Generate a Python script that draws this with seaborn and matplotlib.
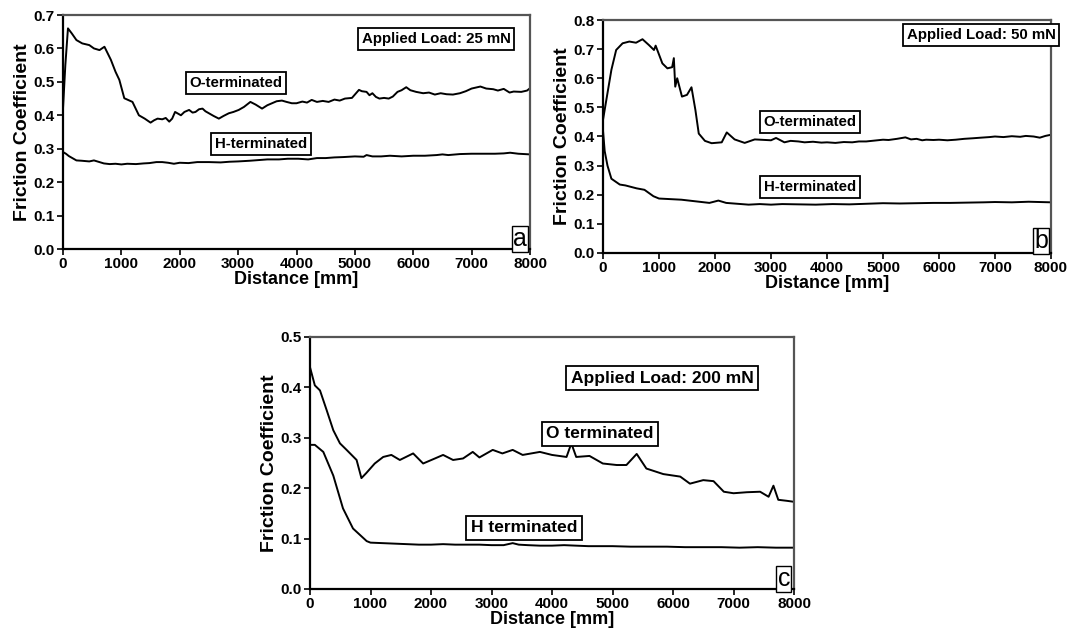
import numpy as np
import pandas as pd
import matplotlib
matplotlib.use("Agg")
import matplotlib.pyplot as plt
import seaborn as sns

# ---- panel a: applied load 25 mN ----
a_o_dist = [0, 40, 85, 150, 230, 330, 450, 530, 625, 710, 820, 900, 965, 1050, 1190,
            1300, 1400, 1500, 1560, 1620, 1700, 1760, 1820, 1870, 1920, 1970, 2020, 2080,
            2160, 2220, 2270, 2330, 2390, 2440, 2500, 2580, 2670, 2750, 2840, 2920, 3010,
            3100, 3210, 3300, 3410, 3500, 3580, 3660, 3750, 3830, 3920, 4000, 4100, 4180,
            4260, 4350, 4450, 4550, 4650, 4740, 4830, 4950, 5070, 5120, 5200, 5250, 5300,
            5360, 5420, 5500, 5580, 5650, 5730, 5800, 5880, 5950, 6050, 6170, 6270, 6370,
            6470, 6570, 6680, 6800, 6900, 7000, 7150, 7250, 7370, 7450, 7550, 7650, 7720,
            7850, 7950, 8000]
a_o_mu = [0.42, 0.55, 0.66, 0.645, 0.625, 0.615, 0.61, 0.60, 0.595, 0.605, 0.566, 0.53,
          0.506, 0.451, 0.44, 0.40, 0.39, 0.378, 0.385, 0.39, 0.388, 0.392, 0.381, 0.39,
          0.41, 0.405, 0.40, 0.41, 0.416, 0.408, 0.41, 0.418, 0.42, 0.412, 0.406, 0.398,
          0.39, 0.398, 0.406, 0.41, 0.416, 0.425, 0.44, 0.432, 0.42, 0.43, 0.436, 0.442,
          0.444, 0.44, 0.436, 0.436, 0.441, 0.438, 0.446, 0.44, 0.443, 0.44, 0.447, 0.444,
          0.45, 0.452, 0.476, 0.472, 0.47, 0.46, 0.466, 0.455, 0.45, 0.452, 0.45, 0.456,
          0.47, 0.475, 0.484, 0.475, 0.47, 0.466, 0.468, 0.462, 0.466, 0.463, 0.462, 0.466,
          0.472, 0.48, 0.486, 0.48, 0.478, 0.474, 0.479, 0.468, 0.471, 0.47, 0.474, 0.481]
a_h_dist = [0, 50, 100, 160, 230, 320, 450, 530, 625, 700, 800, 900, 1000, 1100, 1250,
            1380, 1480, 1600, 1700, 1800, 1900, 2000, 2150, 2300, 2500, 2700, 2850, 3000,
            3200, 3350, 3500, 3700, 3850, 4030, 4200, 4350, 4500, 4650, 4800, 5000, 5150,
            5200, 5300, 5450, 5600, 5800, 6000, 6200, 6400, 6500, 6600, 6800, 7000, 7200,
            7400, 7550, 7660, 7800, 8000]
a_h_mu = [0.29, 0.285, 0.278, 0.272, 0.265, 0.264, 0.262, 0.265, 0.26, 0.256, 0.254,
          0.255, 0.253, 0.255, 0.254, 0.256, 0.257, 0.26, 0.26, 0.258, 0.255, 0.258, 0.257,
          0.26, 0.26, 0.259, 0.261, 0.262, 0.264, 0.266, 0.268, 0.268, 0.27, 0.27, 0.268,
          0.272, 0.272, 0.274, 0.275, 0.277, 0.276, 0.281, 0.277, 0.277, 0.279, 0.277,
          0.279, 0.279, 0.281, 0.283, 0.281, 0.284, 0.285, 0.285, 0.285, 0.286, 0.288,
          0.285, 0.283]

# ---- panel b: applied load 50 mN ----
b_o_dist = [0, 60, 150, 235, 350, 470, 590, 705, 820, 910, 940, 1060, 1150, 1235, 1265,
            1290, 1325, 1410, 1500, 1580, 1650, 1710, 1820, 1940, 2120, 2210, 2350, 2530,
            2710, 3000, 3090, 3240, 3350, 3490, 3600, 3750, 3900, 4000, 4150, 4300, 4450,
            4570, 4700, 4850, 5000, 5100, 5250, 5400, 5500, 5600, 5700, 5770, 5900, 6000,
            6150, 6300, 6450, 6610, 6750, 6900, 7000, 7150, 7300, 7450, 7550, 7690, 7800,
            7900, 8000]
b_o_mu = [0.457, 0.526, 0.629, 0.697, 0.72, 0.726, 0.722, 0.734, 0.714, 0.697, 0.712,
          0.651, 0.634, 0.638, 0.669, 0.571, 0.60, 0.537, 0.543, 0.569, 0.491, 0.41,
          0.385, 0.377, 0.38, 0.414, 0.39, 0.378, 0.39, 0.387, 0.395, 0.38, 0.385, 0.383,
          0.38, 0.382, 0.379, 0.38, 0.378, 0.381, 0.38, 0.383, 0.383, 0.386, 0.389, 0.388,
          0.392, 0.397, 0.39, 0.392, 0.387, 0.389, 0.388, 0.389, 0.387, 0.389, 0.392,
          0.394, 0.396, 0.398, 0.40, 0.398, 0.401, 0.399, 0.402, 0.40, 0.396, 0.402, 0.406]
b_h_dist = [0, 30, 80, 150, 300, 400, 600, 740, 900, 1000, 1400, 1900, 2060, 2200, 2600,
            2800, 3000, 3200, 3500, 3800, 4100, 4400, 4700, 5000, 5300, 5600, 5900, 6200,
            6500, 6800, 7000, 7300, 7600, 7800, 8000]
b_h_mu = [0.42, 0.35, 0.30, 0.255, 0.235, 0.232, 0.222, 0.217, 0.195, 0.187, 0.183,
          0.172, 0.18, 0.172, 0.166, 0.168, 0.166, 0.168, 0.167, 0.166, 0.168, 0.167,
          0.169, 0.171, 0.17, 0.171, 0.172, 0.172, 0.173, 0.174, 0.175, 0.174, 0.176,
          0.175, 0.174]

# ---- panel c: applied load 200 mN ----
c_o_dist = [0, 80, 165, 275, 385, 495, 605, 770, 850, 930, 1070, 1210, 1345, 1485, 1705,
            1870, 2065, 2200, 2365, 2530, 2690, 2800, 3020, 3180, 3350, 3515, 3800, 4000,
            4240, 4320, 4400, 4620, 4840, 5070, 5230, 5400, 5560, 5840, 6120, 6280, 6500,
            6670, 6840, 7000, 7220, 7440, 7580, 7660, 7740, 7880, 8000]
c_o_mu = [0.44, 0.404, 0.394, 0.355, 0.315, 0.289, 0.276, 0.256, 0.22, 0.23, 0.249,
          0.262, 0.266, 0.256, 0.269, 0.249, 0.259, 0.266, 0.256, 0.259, 0.272, 0.261,
          0.276, 0.269, 0.276, 0.266, 0.272, 0.266, 0.262, 0.289, 0.262, 0.264, 0.249,
          0.246, 0.246, 0.268, 0.239, 0.228, 0.223, 0.209, 0.216, 0.214, 0.193, 0.19,
          0.192, 0.193, 0.183, 0.205, 0.177, 0.175, 0.173]
c_h_dist = [0, 80, 220, 385, 545, 711, 937, 1000, 1200, 1400, 1600, 1800, 2000, 2200,
            2400, 2600, 2800, 3000, 3200, 3350, 3450, 3600, 3800, 4000, 4200, 4400, 4600,
            4800, 5000, 5300, 5600, 5900, 6200, 6500, 6800, 7100, 7400, 7700, 8000]
c_h_mu = [0.286, 0.286, 0.272, 0.225, 0.16, 0.12, 0.095, 0.092, 0.091, 0.09, 0.089,
          0.088, 0.088, 0.089, 0.088, 0.088, 0.088, 0.087, 0.087, 0.091, 0.088, 0.087,
          0.086, 0.086, 0.087, 0.086, 0.085, 0.085, 0.085, 0.084, 0.084, 0.084, 0.083,
          0.083, 0.083, 0.082, 0.083, 0.082, 0.082]

x_ticks = [0, 1000, 2000, 3000, 4000, 5000, 6000, 7000, 8000]

sns.set_style("ticks")
plt.rcParams["font.family"] = ["Liberation Sans", "DejaVu Sans"]
plt.rcParams["text.color"] = "black"
plt.rcParams["axes.labelcolor"] = "black"
plt.rcParams["xtick.color"] = "black"
plt.rcParams["ytick.color"] = "black"

W, H = 1073, 639
fig = plt.figure(figsize=(W / 100, H / 100), dpi=100)


def px_rect(l, t, r, b):
    return [l / W, 1 - b / H, (r - l) / W, (b - t) / H]


def frame(ax, ymax, ystep):
    ax.set_xlim(0, 8000)
    ax.set_ylim(0, ymax)
    ax.set_xticks(x_ticks)
    ax.set_yticks(np.round(np.arange(0, ymax + 1e-9, ystep), 2))
    ax.set_yticklabels([f"{v:.1f}" for v in ax.get_yticks()])
    for s in ("left", "bottom"):
        ax.spines[s].set_color("black")
        ax.spines[s].set_linewidth(1.6)
    for s in ("top", "right"):
        ax.spines[s].set_visible(True)
        ax.spines[s].set_color("#555555")
        ax.spines[s].set_linewidth(1.6)
    ax.tick_params(direction="out", length=4, width=1.2, labelsize=11, pad=2)
    for lab in ax.get_xticklabels() + ax.get_yticklabels():
        lab.set_fontweight("bold")
    ax.set_xlabel("Distance [mm]", fontsize=13, fontweight="bold", labelpad=0)
    ax.set_ylabel("Friction Coefficient", fontsize=14, fontweight="bold", labelpad=2)
    ax.grid(False)


def draw(ax, dist, mu):
    df = pd.DataFrame({"Distance": dist, "Friction": mu})
    sns.lineplot(data=df, x="Distance", y="Friction", ax=ax, color="black",
                 linewidth=1.4, estimator=None, sort=False)


def tag(x, y, s, size=10.8):
    fig.text(x / W, 1 - y / H, s, ha="center", va="center", fontsize=size,
             fontweight="bold",
             bbox=dict(boxstyle="square,pad=0.25", fc="white", ec="black", lw=1.3))


def letter(x, y, s):
    fig.text(x / W, 1 - y / H, s, ha="center", va="center", fontsize=18,
             bbox=dict(boxstyle="square,pad=0.05", fc="white", ec="black", lw=1.0))


ax_a = fig.add_axes(px_rect(63, 15, 530, 249))
draw(ax_a, a_o_dist, a_o_mu)
draw(ax_a, a_h_dist, a_h_mu)
frame(ax_a, 0.7, 0.1)

ax_b = fig.add_axes(px_rect(603, 20, 1051, 253))
draw(ax_b, b_o_dist, b_o_mu)
draw(ax_b, b_h_dist, b_h_mu)
frame(ax_b, 0.8, 0.1)

ax_c = fig.add_axes(px_rect(310, 337, 794, 589))
draw(ax_c, c_o_dist, c_o_mu)
draw(ax_c, c_h_dist, c_h_mu)
frame(ax_c, 0.5, 0.1)

tag(436, 39, "Applied Load: 25 mN")
tag(236, 83, "O-terminated")
tag(261, 144, "H-terminated")
letter(520, 239, "a")

tag(981, 35, "Applied Load: 50 mN")
tag(810, 122, "O-terminated")
tag(810, 187, "H-terminated")
letter(1041, 241, "b")

tag(662, 378, "Applied Load: 200 mN", size=12.5)
tag(600, 434, "O terminated", size=12.5)
tag(524, 528, "H terminated", size=12.5)
letter(784, 579, "c")

fig.savefig("out.png", dpi=100, facecolor="white")
